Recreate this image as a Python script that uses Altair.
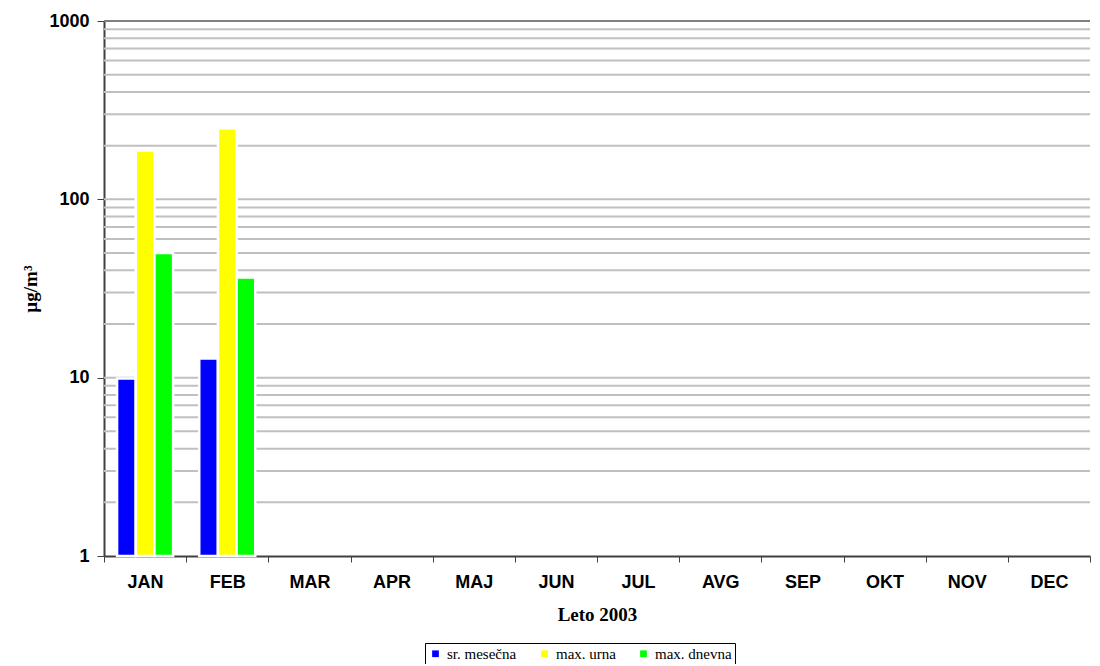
import altair as alt
import pandas as pd

months = ["JAN", "FEB", "MAR", "APR", "MAJ", "JUN", "JUL", "AVG", "SEP", "OKT", "NOV", "DEC"]
series = ["sr. mesečna", "max. urna", "max. dnevna"]
colors = ["#0000ff", "#ffff00", "#00ff00"]
sr_mesecna = [9.9, 12.8]
max_urna = [188, 250]
max_dnevna = [50, 36.5]
grid_values = [2, 3, 4, 5, 6, 7, 8, 9, 10, 20, 30, 40, 50, 60, 70, 80, 90, 100,
               200, 300, 400, 500, 600, 700, 800, 900]
y_ticks = [1, 10, 100, 1000]

rows = []
for name, vals in zip(series, [sr_mesecna, max_urna, max_dnevna]):
    for m, v in zip(months, vals):
        rows.append({"month": m, "series": name, "value": v})
df = pd.DataFrame(rows)
grid_df = pd.DataFrame({"value": grid_values})
top_df = pd.DataFrame({"value": [1000]})

W, H = 986, 535
yscale = alt.Scale(type="log", domain=[1, 1000], nice=False)
yaxis = alt.Axis(title="µg/m³", values=y_ticks, format="d", grid=False,
                 labelFont="Liberation Sans", labelFontWeight="bold",
                 labelFontSize=18, labelColor="black", labelPadding=8,
                 tickSize=7, tickColor="#404040", tickWidth=1,
                 domainColor="#404040", domainWidth=2,
                 titleFont="Liberation Serif", titleFontWeight="bold",
                 titleFontSize=19, titleColor="black", titlePadding=8)

grid = alt.Chart(grid_df).mark_rule(color="#c0c0c0", strokeWidth=2).encode(
    y=alt.Y("value:Q", scale=yscale, axis=yaxis, title="µg/m³"),
    x=alt.value(0), x2=alt.value(W),
)
top = alt.Chart(top_df).mark_rule(color="#808080", strokeWidth=2).encode(
    y=alt.Y("value:Q", scale=yscale, axis=yaxis, title="µg/m³"),
    x=alt.value(0), x2=alt.value(W),
)

bars = alt.Chart(df).mark_bar(stroke="white", strokeWidth=2.5).encode(
    x=alt.X("month:N", sort=months,
            scale=alt.Scale(domain=months, paddingInner=0, paddingOuter=0),
            axis=alt.Axis(title="Leto 2003", labelAngle=0, tickBand="extent",
                          labelFont="Liberation Sans", labelFontWeight="bold",
                          labelFontSize=18, labelColor="black", labelPadding=11,
                          tickSize=6, tickColor="#404040", tickWidth=1,
                          domainColor="#404040", domainWidth=2,
                          titleFont="Liberation Serif", titleFontWeight="bold",
                          titleFontSize=19, titleColor="black", titlePadding=14)),
    xOffset=alt.XOffset("series:N", sort=series,
                        scale=alt.Scale(domain=series, paddingOuter=0.7, paddingInner=0)),
    y=alt.Y("value:Q", scale=yscale, axis=yaxis, title="µg/m³"),
    y2=alt.datum(1),
    color=alt.Color("series:N", sort=series,
                    scale=alt.Scale(domain=series, range=colors),
                    legend=alt.Legend(title=None, orient="none", legendX=321, legendY=622,
                                      direction="horizontal", columns=3,
                                      symbolType="square", symbolSize=45, symbolStrokeWidth=0,
                                      labelFont="Liberation Serif", labelFontSize=15,
                                      labelColor="black", labelOffset=4, columnPadding=20,
                                      strokeColor="black", fillColor="white", padding=3)),
)

chart = alt.layer(grid, top, bars).properties(
    width=W, height=H,
    autosize=alt.AutoSizeParams(type="none"),
    padding={"left": 96, "top": 13, "right": 2, "bottom": 108},
).configure_view(stroke=None)

chart.save("out.html", embed_options={"renderer": "svg", "actions": False})
